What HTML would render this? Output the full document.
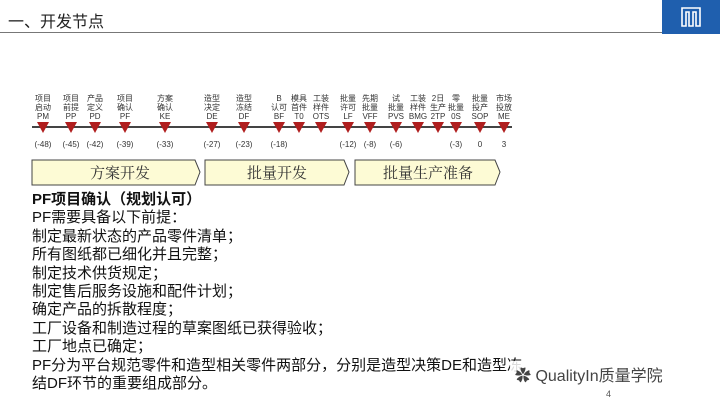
<!DOCTYPE html>
<html><head><meta charset="utf-8"><style>
body{margin:0;width:720px;height:405px;background:#fff;position:relative;overflow:hidden;font-family:"Liberation Sans","Noto Sans CJK SC",sans-serif;}
.a{position:absolute;}
.m{position:absolute;font-size:8px;line-height:9px;color:#333;text-align:center;width:30px;}
.t{position:absolute;top:122px;width:0;height:0;border-left:6px solid transparent;border-right:6px solid transparent;border-top:11px solid #b01e1e;}
.n{position:absolute;top:140px;font-size:8px;color:#333;width:30px;text-align:center;}
.body{position:absolute;left:32px;top:191px;font-size:15px;line-height:18.4px;color:#111;white-space:nowrap;}
</style></head><body>
<div class="a" style="left:8px;top:8px;font-size:16px;color:#222">一、开发节点</div>
<div class="a" style="left:0;top:32px;width:662px;height:1px;background:#777"></div>
<div class="a" style="left:662px;top:0;width:58px;height:34px;background:#1f5fae"></div>
<svg class="a" style="left:680px;top:6px" width="22" height="22" viewBox="0 0 22 22"><path d="M2 2H20V20H16V6H13V20H9V6H6V20H2Z" fill="none" stroke="#fff" stroke-width="1.6"/></svg>
<div class="a" style="left:32px;top:126px;width:480px;height:1.5px;background:#444"></div>
<div id="tl"></div>
<svg class="a" style="left:30px;top:158px" width="480" height="30">
<g fill="#fdfbd5" stroke="#444" stroke-width="1">
<path d="M2 2H165L170 14L165 27H2Z"/>
<path d="M175 2H314L319 14L314 27H175Z"/>
<path d="M325 2H465L470 14L465 27H325Z"/>
</g>
<g font-family="Noto Serif CJK SC,serif" font-size="15" fill="#333" text-anchor="middle">
<text x="90" y="20">方案开发</text><text x="247" y="20">批量开发</text><text x="398" y="20">批量生产准备</text>
</g></svg>
<div class="body"><b>PF项目确认（规划认可）</b><br>PF需要具备以下前提：<br>制定最新状态的产品零件清单；<br>所有图纸都已细化并且完整；<br>制定技术供货规定；<br>制定售后服务设施和配件计划；<br>确定产品的拆散程度；<br>工厂设备和制造过程的草案图纸已获得验收；<br>工厂地点已确定；<br>PF分为平台规范零件和造型相关零件两部分，分别是造型决策DE和造型冻<br>结DF环节的重要组成部分。</div>
<div class="a" style="left:510px;top:361px;width:210px;height:22px;background:rgba(255,255,255,0.85)"></div>
<div class="a" style="left:515px;top:362px;font-size:16px;color:#444">✿ QualityIn质量学院</div>
<div class="a" style="left:606px;top:389px;font-size:9px;color:#555">4</div>
<script>
var d=[[43,"项目<br>启动<br>PM","(-48)"],[71,"项目<br>前提<br>PP","(-45)"],[95,"产品<br>定义<br>PD","(-42)"],[125,"项目<br>确认<br>PF","(-39)"],[165,"方案<br>确认<br>KE","(-33)"],[212,"造型<br>决定<br>DE","(-27)"],[244,"造型<br>冻结<br>DF","(-23)"],[279,"B<br>认可<br>BF","(-18)"],[299,"模具<br>首件<br>T0",""],[321,"工装<br>样件<br>OTS",""],[348,"批量<br>许可<br>LF","(-12)"],[370,"先期<br>批量<br>VFF","(-8)"],[396,"试<br>批量<br>PVS","(-6)"],[418,"工装<br>样件<br>BMG",""],[438,"2日<br>生产<br>2TP",""],[456,"零<br>批量<br>0S","(-3)"],[480,"批量<br>投产<br>SOP","0"],[504,"市场<br>投放<br>ME","3"]];
var h="";d.forEach(function(e){h+='<div class="m" style="left:'+(e[0]-15)+'px;top:94px">'+e[1]+'</div><div class="t" style="left:'+(e[0]-6)+'px"></div><div class="n" style="left:'+(e[0]-15)+'px">'+e[2]+'</div>';});
document.getElementById("tl").innerHTML=h;
</script>
</body></html>
